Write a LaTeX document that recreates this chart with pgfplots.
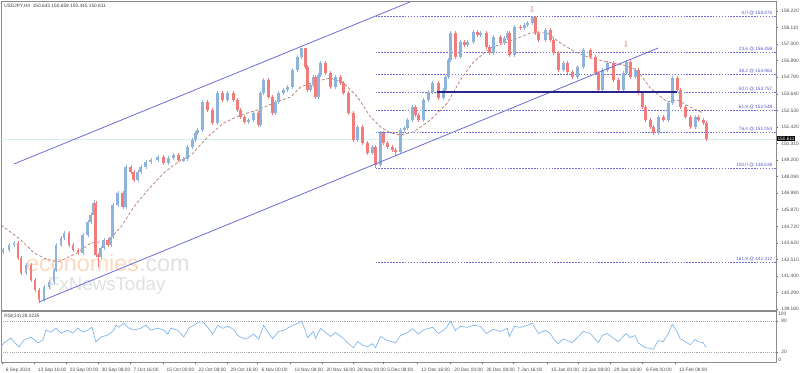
\documentclass[border=0pt]{standalone}
\usepackage{fontspec}
\setmainfont{Liberation Sans}
\newfontfamily\dejavu{DejaVu Sans}
\usepackage{pgfplots}
\pgfplotsset{compat=1.18}
\usepackage{pgfplotstable}
\definecolor{upc}{HTML}{8FB4DB}
\definecolor{dnc}{HTML}{F27C7C}
\definecolor{mac}{HTML}{B86F6F}
\definecolor{chc}{HTML}{6B6BD6}
\definecolor{fibc}{HTML}{6E6EDC}
\definecolor{fibt}{HTML}{5A5AC8}
\definecolor{navyc}{HTML}{26268C}
\definecolor{pricec}{HTML}{D5EFF2}
\definecolor{rsic}{HTML}{7EB3EA}
\definecolor{wmo}{HTML}{FCD9C0}
\definecolor{wmg}{HTML}{E0E0E0}
\definecolor{arrc}{HTML}{E07878}
\newcommand{\tf}{\fontsize{3.6}{4.3}\selectfont}
\newcommand{\fibf}{\fontsize{3.5}{4}\selectfont}

\pgfplotstableread{
x o h l c
2 143.00 143.27 142.88 143.15
8 143.15 143.60 143.03 143.48
13 143.48 143.74 143.36 143.62
17 143.62 143.74 142.49 142.61
20 142.61 142.73 141.48 141.60
25 141.60 142.26 141.48 142.14
30 142.14 142.26 141.01 141.13
34 141.13 141.25 140.34 140.46
38 140.46 140.58 139.60 139.79
43 139.79 140.78 139.67 140.66
48 140.66 141.12 140.54 141.00
53 141.00 141.92 140.88 141.80
55 141.80 143.60 141.68 143.48
60 143.48 144.07 143.36 143.95
63 143.95 144.41 143.83 144.29
68 144.29 144.41 143.36 143.48
72 143.48 143.60 143.03 143.15
77 143.15 143.27 142.83 142.95
82 142.95 144.28 142.83 144.16
87 144.16 145.15 144.04 145.03
90 145.03 145.62 144.91 145.50
93 145.50 146.51 145.38 146.31
95 146.31 146.43 142.69 142.81
97 142.81 142.93 142.00 142.68
100 142.68 143.40 142.56 143.28
103 143.28 143.94 143.16 143.82
107 143.82 143.94 143.36 143.48
110 143.48 144.14 143.36 144.02
112 144.02 146.29 143.90 146.17
117 146.17 147.10 146.05 146.98
122 146.98 147.10 145.92 146.04
125 146.04 148.85 145.92 148.73
130 148.73 148.85 148.27 148.39
133 148.39 148.51 147.73 147.85
137 147.85 148.51 147.73 148.39
140 148.39 148.85 148.27 148.73
145 148.73 149.19 148.61 149.07
150 149.07 149.32 148.95 149.20
157 149.20 149.52 149.08 149.40
163 149.40 149.52 148.88 149.00
168 149.00 149.45 148.88 149.33
173 149.33 149.66 149.21 149.54
178 149.54 149.66 149.08 149.20
183 149.20 149.37 149.08 149.25
187 149.25 150.19 149.13 150.07
192 150.07 150.67 149.95 150.55
195 150.55 151.14 150.43 151.02
197 151.02 151.34 150.90 151.22
202 151.22 153.22 151.10 153.10
207 153.10 153.22 152.44 152.56
212 152.56 152.68 151.57 151.69
217 151.69 153.83 151.57 153.71
222 153.71 153.83 153.12 153.24
227 153.24 153.83 153.12 153.71
233 153.71 153.83 153.12 153.24
237 153.24 153.36 152.44 152.56
240 152.56 152.68 151.97 152.09
244 152.09 152.21 151.64 151.76
248 151.76 152.01 151.64 151.89
253 151.89 152.48 151.77 152.36
258 152.36 152.48 151.43 151.55
260 151.55 153.83 151.43 153.71
263 153.71 154.70 153.59 154.58
268 154.58 154.70 153.32 153.44
272 153.44 153.56 152.24 152.36
275 152.36 153.22 152.24 153.10
278 153.10 153.83 152.98 153.71
283 153.71 154.03 153.59 153.91
287 153.91 154.23 153.79 154.11
292 154.11 155.37 153.99 155.25
297 155.25 156.25 155.13 156.13
301 156.13 156.75 156.01 156.73
305 156.73 156.75 155.33 155.45
307 155.45 155.57 153.79 153.91
310 153.91 154.36 153.79 154.24
313 154.24 154.90 154.12 154.78
315 154.78 154.90 153.32 153.44
318 153.44 155.04 153.32 154.92
320 154.92 155.85 154.80 155.72
325 155.72 155.84 154.93 155.05
330 155.05 155.17 153.99 154.11
335 154.11 154.90 153.99 154.78
340 154.78 154.90 154.26 154.38
343 154.38 154.50 153.59 153.71
348 153.71 153.83 152.24 152.36
353 152.36 152.48 150.43 150.55
357 150.55 151.54 150.43 151.42
362 151.42 151.54 150.22 150.34
367 150.34 150.46 149.55 149.67
372 149.67 150.19 149.55 150.07
375 150.07 150.19 148.64 148.86
380 148.86 151.14 148.74 151.02
383 151.02 151.14 150.22 150.34
387 150.34 150.46 149.95 150.07
392 150.07 150.19 149.75 149.87
395 149.87 149.99 149.50 149.74
400 149.74 151.34 149.62 151.22
404 151.22 151.47 151.10 151.35
407 151.35 152.01 151.23 151.89
412 151.89 152.88 151.77 152.76
415 152.76 152.88 152.11 152.23
418 152.23 152.35 151.77 151.89
423 151.89 153.36 151.77 153.24
428 153.24 153.89 153.12 153.77
432 153.77 154.50 153.65 154.38
438 154.38 154.50 153.25 153.37
443 153.37 154.03 153.25 153.91
445 153.91 154.90 153.79 154.78
448 154.78 156.04 154.66 155.92
450 155.92 157.86 155.80 157.74
455 157.74 157.86 156.01 156.13
460 156.13 157.25 156.01 157.13
464 157.13 157.25 156.81 156.93
467 156.93 157.25 156.81 157.13
473 157.13 157.93 157.01 157.81
477 157.81 157.93 157.49 157.61
480 157.61 157.86 157.49 157.74
486 157.74 157.86 156.68 156.80
489 156.80 156.92 156.28 156.40
493 156.40 157.59 156.28 157.47
500 157.47 157.59 156.95 157.07
504 157.07 157.52 156.95 157.40
507 157.40 157.86 157.28 157.74
509 157.74 157.86 156.14 156.26
514 156.26 158.26 156.14 158.14
520 158.14 158.26 157.96 158.08
524 158.08 158.40 157.96 158.28
527 158.28 158.53 158.16 158.41
532 158.41 158.875 158.29 158.82
535 158.82 158.875 157.62 157.74
538 157.74 157.86 157.15 157.27
545 157.27 158.06 157.15 157.94
550 157.94 158.06 157.15 157.27
553 157.27 157.39 156.28 156.40
558 156.40 156.52 155.13 155.25
563 155.25 155.84 155.13 155.72
567 155.72 155.84 155.00 155.12
572 155.12 155.24 154.66 154.78
577 154.78 155.57 154.66 155.45
583 155.45 156.72 155.33 156.60
590 156.60 156.72 156.01 156.13
595 156.13 156.25 154.93 155.05
598 155.05 155.17 153.75 153.91
602 153.91 155.37 153.79 155.25
607 155.25 155.84 155.13 155.72
613 155.72 155.84 154.46 154.58
618 154.58 154.70 153.75 153.91
623 153.91 155.17 153.79 155.05
626 155.05 155.91 154.93 155.79
630 155.79 155.91 154.66 154.78
635 154.78 155.37 154.66 155.25
638 155.25 155.37 153.59 153.71
642 153.71 153.83 152.64 152.76
645 152.76 152.88 151.77 151.89
650 151.89 152.01 151.30 151.42
653 151.42 151.54 150.90 151.02
658 151.02 152.21 150.90 152.09
663 152.09 152.21 151.77 151.89
668 151.89 153.15 151.77 153.03
672 153.03 154.83 152.91 154.71
677 154.71 154.83 153.79 153.91
680 153.91 154.03 152.64 152.76
685 152.76 152.88 151.97 152.09
690 152.09 152.21 151.30 151.42
695 151.42 152.21 151.30 152.09
698 152.09 152.21 151.77 151.89
703 151.89 152.01 151.57 151.69
706 151.69 151.81 150.45 150.61
}\candles

\pgfplotstableread{
x v
0 144.83
20 143.82
33 142.95
45 142.55
57 142.34
75 142.90
90 143.62
107 143.75
120 144.69
133 146.04
147 147.18
163 148.33
180 149.20
190 149.50
207 150.75
223 151.69
240 152.23
257 152.56
273 153.03
290 153.44
300 154.11
313 154.45
330 154.71
343 154.38
357 153.44
370 152.09
380 151.42
390 151.02
400 150.88
413 151.08
430 151.89
447 153.03
460 154.58
473 155.79
490 156.73
513 157.27
530 157.74
547 157.74
560 157.07
575 156.46
590 156.06
607 155.79
623 155.59
637 155.25
650 154.04
667 153.10
677 153.24
690 152.76
703 152.36
}\matab

\pgfplotstableread{
x v
0 29.6
3 37.4
10 47
13 39.3
18 29.6
23 43.2
30 49
37 37.4
42 43.2
45 62.5
50 58.6
55 66.4
60 56.7
67 62.5
72 56.7
77 66.4
82 58.6
87 62.5
91 68.3
95 39.3
100 49
107 52.8
113 62.5
115 72.2
118 68.3
123 76
128 66.4
133 62.5
140 66.4
145 72.2
150 62.5
157 66.4
163 62.5
167 54.8
170 66.4
177 62.5
183 49
188 66.4
193 72.2
198 78
202 79
207 68
212 55
217 72
222 66
227 70
233 64
237 52
244 45
248 48
253 55
258 45
263 72
268 56
272 46
278 60
283 62
292 72
297 76
301 80
305 60
307 48
313 60
315 46
320 66
325 58
330 50
335 58
343 46
348 36
353 28
357 40
362 33
367 30
372 36
375 28
380 50
387 42
395 38
400 52
407 58
412 65
418 55
423 63
432 68
438 56
445 65
450 80
455 62
460 70
467 68
473 72
480 70
486 56
493 64
500 60
507 66
509 50
514 70
520 68
527 72
532 76
538 56
545 62
550 56
553 46
558 36
563 45
572 38
577 48
583 60
590 56
595 45
598 38
602 52
607 56
613 47
618 40
626 56
630 48
635 52
638 38
642 32
645 28
650 27
653 25
658 42
663 40
668 55
672 74
677 60
680 46
685 40
690 34
695 44
698 40
703 38
706 28.3
}\rsitab

\begin{document}
\begin{tikzpicture}
\begin{axis}[
  at={(0.75pt,-0.75pt)}, anchor=north west,
  scale only axis, width=581.25pt, height=231.75pt,
  xmin=0, xmax=776, ymin=139.11, ymax=159.89,
  xtick=\empty,
  ytick={159.22,158.11,157.0,155.89,154.78,153.64,152.53,151.42,150.31,149.2,148.09,146.98,145.87,144.72,143.62,142.51,141.4,140.29,139.18},
  yticklabels={159.220,158.110,157.000,155.890,154.780,153.640,152.530,151.420,150.310,149.200,148.090,146.980,145.870,144.720,143.620,142.510,141.400,140.290,139.180},
  ytick pos=right, yticklabel pos=right,
  tick align=outside, major tick length=1.5pt,
  tick label style={font=\tf, text=black!70},
  yticklabel style={xshift=-1pt},
  axis line style={draw=black!45, line width=0.4pt},
  tick style={draw=black!60, line width=0.3pt},
  clip mode=individual,
  /pgf/number format/assume math mode=true,
]
% current price line
\addplot[pricec, line width=0.6pt] coordinates {(0,150.611) (776,150.611)};
% watermark
\node[anchor=base west, inner sep=0pt, font=\fontsize{17.5}{18}\selectfont] at (axis cs:25,141.70) {\textcolor{wmo}{economies}\textcolor{wmg}{.com}};
\node[anchor=base west, inner sep=0pt, font=\fontsize{14}{15}\selectfont] at (axis cs:47,140.40) {\textcolor{wmg}{FxNewsToday}};
% fibonacci levels
\addplot[fibc, line width=0.4pt, dash pattern=on 1.2pt off 1pt] coordinates {(375,158.875) (776,158.875)};
\addplot[fibc, line width=0.4pt, dash pattern=on 1.2pt off 1pt] coordinates {(375,156.459) (776,156.459)};
\addplot[fibc, line width=0.4pt, dash pattern=on 1.2pt off 1pt] coordinates {(375,154.964) (776,154.964)};
\addplot[fibc, line width=0.4pt, dash pattern=on 1.2pt off 1pt] coordinates {(375,153.757) (776,153.757)};
\addplot[fibc, line width=0.4pt, dash pattern=on 1.2pt off 1pt] coordinates {(375,152.549) (776,152.549)};
\addplot[fibc, line width=0.4pt, dash pattern=on 1.2pt off 1pt] coordinates {(375,151.054) (776,151.054)};
\addplot[fibc, line width=0.4pt, dash pattern=on 1.2pt off 1pt] coordinates {(375,148.638) (776,148.638)};
\addplot[fibc, line width=0.4pt, dash pattern=on 1.2pt off 1pt] coordinates {(375,142.312) (776,142.312)};
\node[anchor=south east, inner sep=0.4pt, font=\fibf, text=fibt] at (axis cs:773,158.875) {0.0 @ 158.875};
\node[anchor=south east, inner sep=0.4pt, font=\fibf, text=fibt] at (axis cs:773,156.459) {23.6 @ 156.459};
\node[anchor=south east, inner sep=0.4pt, font=\fibf, text=fibt] at (axis cs:773,154.964) {38.2 @ 154.964};
\node[anchor=south east, inner sep=0.4pt, font=\fibf, text=fibt] at (axis cs:773,153.757) {50.0 @ 153.757};
\node[anchor=south east, inner sep=0.4pt, font=\fibf, text=fibt] at (axis cs:773,152.549) {61.8 @ 152.549};
\node[anchor=south east, inner sep=0.4pt, font=\fibf, text=fibt] at (axis cs:773,151.054) {76.4 @ 151.054};
\node[anchor=south east, inner sep=0.4pt, font=\fibf, text=fibt] at (axis cs:773,148.638) {100.0 @ 148.638};
\node[anchor=south east, inner sep=0.4pt, font=\fibf, text=fibt] at (axis cs:773,142.312) {161.8 @ 142.312};
% moving average
\addplot[mac, line width=0.5pt, dash pattern=on 2.2pt off 1.5pt] table[x=x, y=v] {\matab};
% wicks
\addplot[draw=none, mark=none, error bars/.cd, y dir=both, y explicit, error mark=none,
  error bar style={draw=upc, line width=0.45pt, solid}]
  table[x=x, y expr={\thisrow{c}>=\thisrow{o} ? (\thisrow{h}+\thisrow{l})/2 : nan}, y error expr={(\thisrow{h}-\thisrow{l})/2}] {\candles};
\addplot[draw=none, mark=none, error bars/.cd, y dir=both, y explicit, error mark=none,
  error bar style={draw=dnc, line width=0.45pt, solid}]
  table[x=x, y expr={\thisrow{c}<\thisrow{o} ? (\thisrow{h}+\thisrow{l})/2 : nan}, y error expr={(\thisrow{h}-\thisrow{l})/2}] {\candles};
% bodies
\addplot[draw=none, mark=none, error bars/.cd, y dir=both, y explicit, error mark=none,
  error bar style={draw=upc, line width=2.1pt, solid}]
  table[x=x, y expr={\thisrow{c}>=\thisrow{o} ? (\thisrow{o}+\thisrow{c})/2 : nan}, y error expr={abs(\thisrow{c}-\thisrow{o})/2}] {\candles};
\addplot[draw=none, mark=none, error bars/.cd, y dir=both, y explicit, error mark=none,
  error bar style={draw=dnc, line width=2.1pt, solid}]
  table[x=x, y expr={\thisrow{c}<\thisrow{o} ? (\thisrow{o}+\thisrow{c})/2 : nan}, y error expr={abs(\thisrow{c}-\thisrow{o})/2}] {\candles};
% channel
\addplot[chc, line width=0.6pt] coordinates {(13,148.93) (410,159.84)};
\addplot[chc, line width=0.6pt] coordinates {(38,139.65) (658,156.73)};
% horizontal level
\addplot[navyc, line width=1.1pt] coordinates {(437,153.757) (677,153.757)};
% fractal arrows
\node[text=arrc, font=\dejavu\fontsize{6}{6}\selectfont, inner sep=0pt] at (axis cs:532,159.30) {⇩};
\node[text=arrc, font=\dejavu\fontsize{6}{6}\selectfont, inner sep=0pt] at (axis cs:626,156.95) {⇩};
% header
\node[anchor=north west, inner sep=0pt, font=\tf, text=black!75] at (rel axis cs:0.004,0.992) {USDJPY,H4\ \ 150.643 150.659 150.445 150.611};
% current price box
\node[anchor=west, fill=black, text=white, font=\tf, inner sep=0.6pt] at (axis cs:776.5,150.611) {150.611};
\end{axis}

\begin{axis}[
  at={(0.75pt,-233.25pt)}, anchor=north west,
  scale only axis, width=581.25pt, height=38.25pt,
  xmin=0, xmax=776, ymin=0, ymax=100,
  ytick={20,80}, yticklabels={20,80},
  ytick pos=right, yticklabel pos=right,
  xtick={1,33,65,97,129,162,194,226,257,290,322,353,383,417,450,482,513,547,578,610,642,675},
  xticklabels={6 Sep 2024,13 Sep 16:00,23 Sep 00:00,30 Sep 08:00,7 Oct 16:00,15 Oct 00:00,22 Oct 08:00,29 Oct 16:00,6 Nov 00:00,13 Nov 08:00,20 Nov 16:00,28 Nov 00:00,5 Dec 08:00,12 Dec 16:00,20 Dec 00:00,30 Dec 08:00,7 Jan 16:00,15 Jan 00:00,22 Jan 08:00,29 Jan 16:00,6 Feb 00:00,13 Feb 08:00},
  xtick pos=bottom,
  tick align=outside, major tick length=1.5pt,
  tick label style={font=\tf, text=black!70},
  xticklabel style={anchor=north west, xshift=-0.6pt, yshift=0.6pt},
  yticklabel style={xshift=-1pt},
  axis line style={draw=black!45, line width=0.4pt},
  tick style={draw=black!60, line width=0.3pt},
  clip mode=individual,
  /pgf/number format/assume math mode=true,
]
\addplot[black!35, line width=0.35pt, dash pattern=on 0.8pt off 0.8pt] coordinates {(0,80) (776,80)};
\addplot[black!35, line width=0.35pt, dash pattern=on 0.8pt off 0.8pt] coordinates {(0,20) (776,20)};
\addplot[rsic, line width=0.5pt] table[x=x, y=v] {\rsitab};
\node[anchor=north west, inner sep=0pt, font=\tf, text=black!75] at (rel axis cs:0.004,0.94) {RSI(14) 28.3235};
\node[anchor=north west, inner sep=0pt, font=\tf, text=black!70] at (axis cs:778,99) {100};
\node[anchor=south west, inner sep=0pt, font=\tf, text=black!70] at (axis cs:778,1) {0};
\end{axis}
\pgfresetboundingbox
\path (0,0) rectangle (600pt,-279pt);
\end{tikzpicture}
\end{document}
